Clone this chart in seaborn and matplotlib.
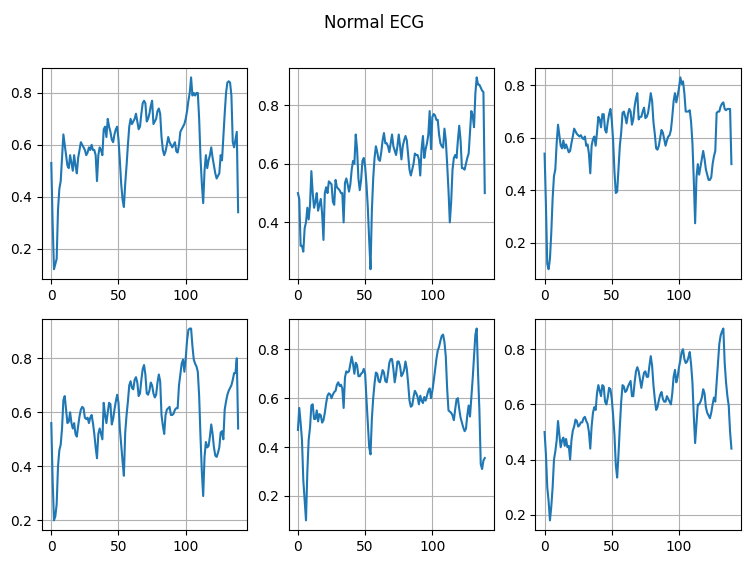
import matplotlib
matplotlib.use("Agg")
import matplotlib.pyplot as plt
import seaborn as sns
import numpy as np
import pandas as pd

title = "Normal ECG"

ecg_1 = [0.53, 0.30, 0.12, 0.14, 0.16, 0.35, 0.43, 0.46, 0.55, 0.64,
         0.60, 0.56, 0.52, 0.51, 0.56, 0.53, 0.50, 0.56, 0.52, 0.49,
         0.55, 0.58, 0.61, 0.60, 0.59, 0.58, 0.56, 0.57, 0.59, 0.58,
         0.60, 0.58, 0.58, 0.56, 0.46, 0.56, 0.59, 0.58, 0.56, 0.66,
         0.67, 0.63, 0.70, 0.67, 0.65, 0.62, 0.61, 0.64, 0.66, 0.67,
         0.62, 0.54, 0.45, 0.39, 0.36, 0.45, 0.52, 0.60, 0.67, 0.70,
         0.68, 0.69, 0.70, 0.72, 0.69, 0.66, 0.67, 0.72, 0.76, 0.77,
         0.76, 0.69, 0.70, 0.72, 0.75, 0.77, 0.68, 0.69, 0.70, 0.73,
         0.74, 0.72, 0.63, 0.58, 0.56, 0.575, 0.60, 0.63, 0.61, 0.60,
         0.59, 0.60, 0.61, 0.575, 0.57, 0.60, 0.65, 0.66, 0.67, 0.68,
         0.70, 0.73, 0.77, 0.80, 0.86, 0.79, 0.80, 0.79, 0.80, 0.80,
         0.70, 0.55, 0.45, 0.375, 0.50, 0.56, 0.51, 0.54, 0.56, 0.59,
         0.55, 0.52, 0.49, 0.47, 0.48, 0.49, 0.56, 0.54, 0.63, 0.72,
         0.80, 0.84, 0.845, 0.84, 0.79, 0.61, 0.59, 0.62, 0.65, 0.34]

ecg_2 = [0.50, 0.48, 0.32, 0.32, 0.30, 0.38, 0.40, 0.45, 0.41, 0.46,
         0.575, 0.50, 0.45, 0.47, 0.50, 0.44, 0.46, 0.48, 0.43, 0.34,
         0.50, 0.52, 0.50, 0.54, 0.535, 0.53, 0.47, 0.46, 0.545, 0.52,
         0.515, 0.51, 0.50, 0.50, 0.40, 0.535, 0.55, 0.53, 0.505, 0.53,
         0.58, 0.61, 0.60, 0.70, 0.65, 0.55, 0.51, 0.545, 0.61, 0.62,
         0.59, 0.53, 0.45, 0.34, 0.24, 0.44, 0.55, 0.62, 0.66, 0.64,
         0.615, 0.61, 0.64, 0.68, 0.705, 0.67, 0.67, 0.66, 0.64, 0.67,
         0.70, 0.66, 0.645, 0.63, 0.66, 0.70, 0.66, 0.615, 0.66, 0.68,
         0.695, 0.68, 0.63, 0.58, 0.56, 0.58, 0.60, 0.635, 0.63, 0.63,
         0.615, 0.56, 0.65, 0.695, 0.62, 0.65, 0.67, 0.70, 0.78, 0.65,
         0.76, 0.77, 0.765, 0.75, 0.75, 0.70, 0.67, 0.66, 0.655, 0.72,
         0.68, 0.60, 0.51, 0.40, 0.47, 0.58, 0.62, 0.63, 0.62, 0.68,
         0.73, 0.68, 0.585, 0.585, 0.58, 0.60, 0.62, 0.635, 0.71, 0.78,
         0.765, 0.725, 0.84, 0.895, 0.87, 0.87, 0.86, 0.85, 0.845, 0.50]

ecg_3 = [0.54, 0.35, 0.12, 0.10, 0.14, 0.24, 0.37, 0.455, 0.48, 0.58,
         0.65, 0.61, 0.57, 0.56, 0.59, 0.56, 0.575, 0.56, 0.545, 0.55,
         0.58, 0.605, 0.635, 0.625, 0.615, 0.61, 0.605, 0.61, 0.60, 0.595,
         0.605, 0.57, 0.575, 0.54, 0.465, 0.57, 0.595, 0.605, 0.57, 0.62,
         0.68, 0.67, 0.64, 0.69, 0.69, 0.63, 0.62, 0.66, 0.69, 0.71,
         0.665, 0.59, 0.47, 0.39, 0.395, 0.48, 0.57, 0.62, 0.695, 0.70,
         0.68, 0.655, 0.69, 0.71, 0.70, 0.65, 0.67, 0.72, 0.75, 0.77,
         0.67, 0.68, 0.68, 0.70, 0.715, 0.675, 0.68, 0.695, 0.73, 0.77,
         0.74, 0.66, 0.615, 0.56, 0.555, 0.57, 0.60, 0.63, 0.62, 0.595,
         0.57, 0.59, 0.605, 0.61, 0.63, 0.68, 0.74, 0.77, 0.735, 0.76,
         0.79, 0.83, 0.805, 0.815, 0.77, 0.70, 0.70, 0.70, 0.705, 0.66,
         0.58, 0.44, 0.275, 0.45, 0.50, 0.46, 0.49, 0.52, 0.55, 0.52,
         0.48, 0.46, 0.44, 0.44, 0.45, 0.50, 0.53, 0.55, 0.695, 0.70,
         0.70, 0.72, 0.73, 0.735, 0.71, 0.705, 0.71, 0.71, 0.71, 0.50]

ecg_4 = [0.56, 0.35, 0.20, 0.215, 0.26, 0.40, 0.46, 0.48, 0.54, 0.645,
         0.66, 0.61, 0.56, 0.565, 0.60, 0.56, 0.54, 0.56, 0.52, 0.51,
         0.55, 0.585, 0.61, 0.62, 0.615, 0.58, 0.575, 0.58, 0.56, 0.58,
         0.59, 0.56, 0.52, 0.47, 0.43, 0.52, 0.54, 0.52, 0.50, 0.635,
         0.59, 0.56, 0.60, 0.635, 0.63, 0.555, 0.575, 0.61, 0.64, 0.665,
         0.635, 0.54, 0.48, 0.42, 0.365, 0.525, 0.59, 0.64, 0.70, 0.715,
         0.69, 0.685, 0.72, 0.73, 0.71, 0.66, 0.67, 0.72, 0.76, 0.775,
         0.74, 0.67, 0.665, 0.68, 0.71, 0.70, 0.67, 0.655, 0.665, 0.71,
         0.74, 0.715, 0.59, 0.55, 0.52, 0.59, 0.61, 0.615, 0.62, 0.59,
         0.59, 0.595, 0.61, 0.615, 0.615, 0.70, 0.74, 0.78, 0.795, 0.75,
         0.80, 0.865, 0.905, 0.91, 0.91, 0.845, 0.795, 0.78, 0.77, 0.75,
         0.66, 0.51, 0.38, 0.29, 0.435, 0.49, 0.47, 0.475, 0.51, 0.555,
         0.52, 0.47, 0.44, 0.435, 0.45, 0.47, 0.525, 0.53, 0.50, 0.61,
         0.64, 0.665, 0.68, 0.69, 0.70, 0.72, 0.745, 0.745, 0.80, 0.54]

ecg_5 = [0.47, 0.56, 0.50, 0.43, 0.265, 0.18, 0.10, 0.30, 0.43, 0.48,
         0.57, 0.575, 0.515, 0.515, 0.55, 0.505, 0.535, 0.53, 0.50, 0.51,
         0.54, 0.58, 0.61, 0.62, 0.615, 0.60, 0.615, 0.625, 0.63, 0.655,
         0.665, 0.65, 0.655, 0.64, 0.56, 0.685, 0.71, 0.705, 0.71, 0.74,
         0.77, 0.74, 0.70, 0.745, 0.735, 0.69, 0.69, 0.70, 0.705, 0.72,
         0.70, 0.595, 0.50, 0.40, 0.37, 0.515, 0.60, 0.66, 0.705, 0.70,
         0.67, 0.665, 0.69, 0.715, 0.705, 0.67, 0.665, 0.70, 0.745, 0.76,
         0.76, 0.72, 0.665, 0.70, 0.75, 0.75, 0.73, 0.69, 0.70, 0.715,
         0.75, 0.72, 0.66, 0.59, 0.565, 0.57, 0.605, 0.63, 0.62, 0.605,
         0.575, 0.61, 0.59, 0.58, 0.605, 0.59, 0.61, 0.63, 0.64, 0.60,
         0.63, 0.67, 0.715, 0.76, 0.795, 0.81, 0.835, 0.855, 0.86, 0.83,
         0.77, 0.64, 0.55, 0.545, 0.54, 0.53, 0.51, 0.555, 0.595, 0.60,
         0.555, 0.52, 0.50, 0.48, 0.465, 0.475, 0.53, 0.57, 0.525, 0.60,
         0.68, 0.77, 0.86, 0.885, 0.70, 0.55, 0.33, 0.31, 0.345, 0.355]

ecg_6 = [0.50, 0.42, 0.30, 0.25, 0.18, 0.23, 0.30, 0.40, 0.43, 0.47,
         0.54, 0.49, 0.445, 0.47, 0.48, 0.45, 0.475, 0.445, 0.45, 0.40,
         0.47, 0.505, 0.52, 0.545, 0.54, 0.52, 0.525, 0.535, 0.535, 0.55,
         0.555, 0.54, 0.53, 0.50, 0.44, 0.52, 0.57, 0.59, 0.58, 0.64,
         0.67, 0.65, 0.63, 0.67, 0.665, 0.61, 0.60, 0.625, 0.66, 0.655,
         0.62, 0.56, 0.49, 0.38, 0.335, 0.42, 0.52, 0.61, 0.67, 0.665,
         0.645, 0.65, 0.665, 0.675, 0.685, 0.63, 0.63, 0.68, 0.72, 0.735,
         0.72, 0.69, 0.66, 0.69, 0.715, 0.72, 0.70, 0.70, 0.74, 0.775,
         0.74, 0.67, 0.62, 0.58, 0.59, 0.615, 0.635, 0.645, 0.62, 0.61,
         0.61, 0.63, 0.62, 0.61, 0.60, 0.64, 0.70, 0.725, 0.68, 0.70,
         0.735, 0.76, 0.79, 0.80, 0.765, 0.75, 0.755, 0.77, 0.79, 0.745,
         0.68, 0.56, 0.46, 0.53, 0.60, 0.60, 0.61, 0.625, 0.655, 0.64,
         0.59, 0.57, 0.56, 0.55, 0.57, 0.60, 0.625, 0.61, 0.68, 0.75,
         0.82, 0.85, 0.865, 0.875, 0.75, 0.68, 0.63, 0.595, 0.50, 0.44]

series = [ecg_1, ecg_2, ecg_3, ecg_4, ecg_5, ecg_6]

fig, axes = plt.subplots(2, 3, figsize=(7.49, 5.65), dpi=100)
fig.subplots_adjust(left=0.056, right=0.989, top=0.880, bottom=0.062,
                    wspace=0.2, hspace=0.19)

for ax, vals in zip(axes.flat, series):
    df = pd.DataFrame({"t": np.arange(len(vals)), "v": vals})
    sns.lineplot(data=df, x="t", y="v", ax=ax, color="#1f77b4", linewidth=1.5)
    ax.grid(True)
    ax.set_xlabel("")
    ax.set_ylabel("")
    ax.set_xticks([0, 50, 100])

fig.suptitle(title, fontsize=12, y=0.975)
fig.savefig("out.png", dpi=100)
